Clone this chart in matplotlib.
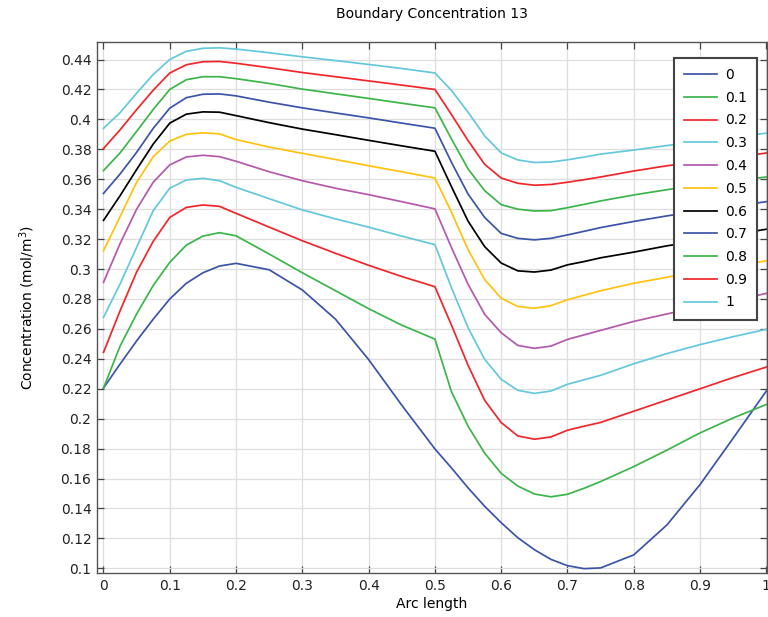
import matplotlib
matplotlib.use("Agg")
import matplotlib.pyplot as plt
from matplotlib.ticker import FuncFormatter

# Arc-length sample positions shared by every curve
arc = [0, .025, .05, .075, .1, .125, .15, .175, .2, .25, .3, .35, .4, .45, .5,
       .525, .55, .575, .6, .625, .65, .675, .7, .725, .75, .8, .85, .9, .95, 1.0]

# Parameter values (legend entries)
params = ["0", "0.1", "0.2", "0.3", "0.4", "0.5", "0.6", "0.7", "0.8", "0.9", "1"]

# Concentration along the boundary for each parameter value (mol/m^3)
c_00 = [0.2205, 0.2365, 0.2520, 0.2665, 0.2800, 0.2905, 0.2975, 0.3020, 0.3038, 0.2995,
        0.2860, 0.2665, 0.2395, 0.2090, 0.1798, 0.1671, 0.1538, 0.1415, 0.1305, 0.1205,
        0.1125, 0.1060, 0.1018, 0.0998, 0.1003, 0.1090, 0.1290, 0.1560, 0.1870, 0.2185]
c_01 = [0.2205, 0.2485, 0.2700, 0.2890, 0.3045, 0.3160, 0.3220, 0.3243, 0.3222, 0.3100,
        0.2975, 0.2855, 0.2735, 0.2625, 0.2532, 0.2180, 0.1950, 0.1770, 0.1635, 0.1550,
        0.1497, 0.1478, 0.1495, 0.1535, 0.1580, 0.1680, 0.1790, 0.1905, 0.2005, 0.2095]
c_02 = [0.2443, 0.2721, 0.2980, 0.3185, 0.3345, 0.3412, 0.3428, 0.3419, 0.3372, 0.3280,
        0.3189, 0.3105, 0.3025, 0.2950, 0.2882, 0.2625, 0.2357, 0.2123, 0.1974, 0.1885,
        0.1863, 0.1878, 0.1923, 0.1950, 0.1975, 0.2050, 0.2125, 0.2200, 0.2275, 0.2345]
c_03 = [0.2677, 0.2900, 0.3145, 0.3390, 0.3540, 0.3595, 0.3606, 0.3590, 0.3546, 0.3470,
        0.3395, 0.3335, 0.3280, 0.3220, 0.3163, 0.2875, 0.2608, 0.2397, 0.2263, 0.2190,
        0.2169, 0.2185, 0.2230, 0.2260, 0.2290, 0.2367, 0.2435, 0.2495, 0.2548, 0.2597]
c_04 = [0.2911, 0.3170, 0.3400, 0.3580, 0.3696, 0.3749, 0.3760, 0.3751, 0.3720, 0.3650,
        0.3590, 0.3540, 0.3497, 0.3450, 0.3402, 0.3143, 0.2898, 0.2698, 0.2574, 0.2490,
        0.2470, 0.2485, 0.2530, 0.2560, 0.2590, 0.2650, 0.2700, 0.2747, 0.2790, 0.2837]
c_05 = [0.3122, 0.3350, 0.3580, 0.3750, 0.3855, 0.3900, 0.3910, 0.3903, 0.3865, 0.3815,
        0.3773, 0.3732, 0.3690, 0.3650, 0.3608, 0.3380, 0.3130, 0.2930, 0.2805, 0.2750,
        0.2738, 0.2755, 0.2795, 0.2825, 0.2855, 0.2905, 0.2945, 0.2985, 0.3020, 0.3055]
c_06 = [0.3325, 0.3490, 0.3665, 0.3835, 0.3975, 0.4035, 0.4050, 0.4048, 0.4025, 0.3978,
        0.3935, 0.3898, 0.3860, 0.3823, 0.3787, 0.3550, 0.3320, 0.3150, 0.3040, 0.2988,
        0.2980, 0.2993, 0.3028, 0.3050, 0.3075, 0.3113, 0.3155, 0.3190, 0.3230, 0.3266]
c_07 = [0.3505, 0.3635, 0.3780, 0.3940, 0.4075, 0.4145, 0.4168, 0.4170, 0.4157, 0.4115,
        0.4077, 0.4043, 0.4010, 0.3975, 0.3941, 0.3713, 0.3501, 0.3345, 0.3238, 0.3205,
        0.3195, 0.3205, 0.3228, 0.3252, 0.3277, 0.3318, 0.3355, 0.3390, 0.3420, 0.3450]
c_08 = [0.3658, 0.3776, 0.3920, 0.4066, 0.4200, 0.4265, 0.4285, 0.4285, 0.4272, 0.4240,
        0.4202, 0.4171, 0.4140, 0.4108, 0.4077, 0.3869, 0.3669, 0.3524, 0.3430, 0.3400,
        0.3388, 0.3390, 0.3410, 0.3432, 0.3455, 0.3495, 0.3530, 0.3563, 0.3590, 0.3615]
c_09 = [0.3805, 0.3930, 0.4065, 0.4195, 0.4310, 0.4365, 0.4385, 0.4387, 0.4375, 0.4345,
        0.4313, 0.4285, 0.4257, 0.4229, 0.4200, 0.4032, 0.3858, 0.3700, 0.3608, 0.3573,
        0.3560, 0.3565, 0.3580, 0.3597, 0.3615, 0.3655, 0.3690, 0.3717, 0.3745, 0.3775]
c_10 = [0.3940, 0.4045, 0.4175, 0.4300, 0.4400, 0.4455, 0.4475, 0.4478, 0.4470, 0.4445,
        0.4418, 0.4393, 0.4367, 0.4340, 0.4310, 0.4193, 0.4048, 0.3890, 0.3776, 0.3729,
        0.3712, 0.3715, 0.3730, 0.3748, 0.3768, 0.3795, 0.3825, 0.3850, 0.3880, 0.3908]

series = [c_00, c_01, c_02, c_03, c_04, c_05, c_06, c_07, c_08, c_09, c_10]

blue = "#3c54a8"
green = "#3cb54a"
red = "#f2262a"
cyan = "#64c8dc"
magenta = "#b45aac"
yellow = "#ffc20e"
black = "#000000"
colors = [blue, green, red, cyan, magenta, yellow, black, blue, green, red, cyan]

plt.rcParams["font.family"] = ["DejaVu Sans"]
plt.rcParams["font.size"] = 10

fig = plt.figure(figsize=(7.68, 6.17), dpi=100)
ax = fig.add_axes([97 / 768, 1 - 573 / 617, 670 / 768, (573 - 41.7) / 617])

for vals, col, lab in zip(series, colors, params):
    ax.plot(arc, vals, color=col, lw=1.25, label=lab, solid_joinstyle="round")

ax.set_xlim(-0.0098, 1.001)
ax.set_ylim(0.0969, 0.4519)
ax.set_xticks([i / 10 for i in range(11)])
ax.set_yticks([0.1 + 0.02 * i for i in range(18)])
ax.xaxis.set_major_formatter(FuncFormatter(lambda v, p: f"{round(v, 3):g}"))
ax.yaxis.set_major_formatter(FuncFormatter(lambda v, p: f"{round(v, 3):g}"))

ax.grid(True, color="#dedede", lw=0.9)
ax.set_axisbelow(True)
ax.tick_params(direction="in", length=5, width=0.9, color="#444444",
               top=True, right=True, labelsize=10, labelcolor="#222222", pad=4)
for sp in ax.spines.values():
    sp.set_color("#555555")
    sp.set_linewidth(1.0)

ax.set_xlabel("Arc length", fontsize=10, labelpad=3)
ax.set_ylabel("Concentration (mol/m$^3$)", fontsize=10, labelpad=17)
ax.set_title("Boundary Concentration 13", fontsize=10, pad=17)

leg = ax.legend(loc="upper right", bbox_to_anchor=(757 / 768, 1 - 58 / 617),
                bbox_transform=fig.transFigure, borderaxespad=0, fancybox=False,
                framealpha=1, edgecolor="#444444", handlelength=2.4,
                handletextpad=0.55, labelspacing=0.63, borderpad=0.72, fontsize=10)
leg.get_frame().set_linewidth(1.5)

fig.savefig("out.png", dpi=100)
